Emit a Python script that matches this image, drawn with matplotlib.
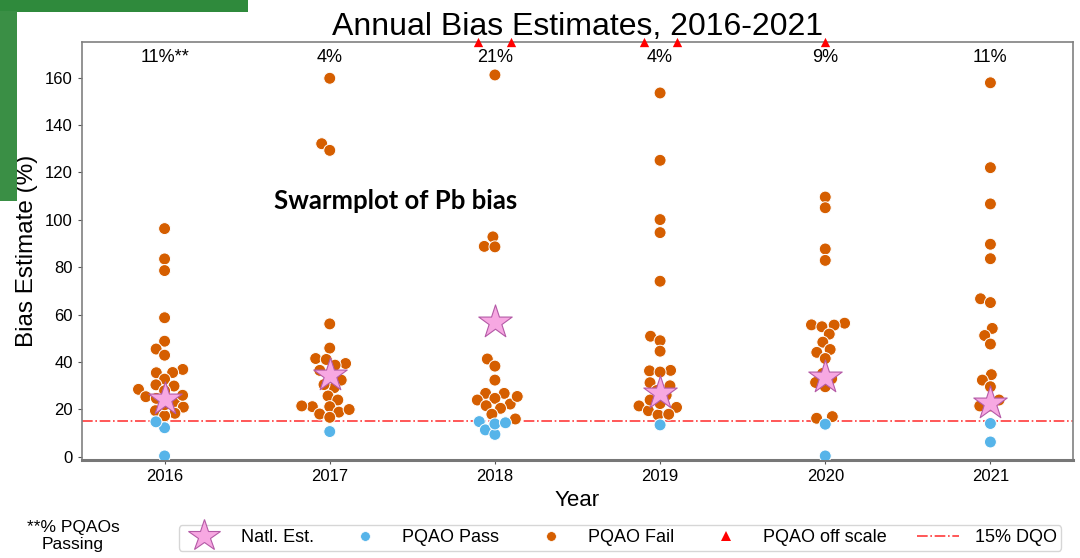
import numpy as np
import pandas as pd
import matplotlib
matplotlib.use('Agg')
import matplotlib.pyplot as plt
import seaborn as sns
from matplotlib.lines import Line2D
from matplotlib.patches import Rectangle

# ---------------- data ----------------
years = ['2016', '2017', '2018', '2019', '2020', '2021']

fail_2016 = [96.3, 83.5, 78.6, 58.7, 48.8, 45.5, 42.9, 36.9, 35.5, 35.6, 32.8, 30.4,
             29.9, 28.5, 27.9, 25.4, 24.7, 23.3, 21.0, 19.5, 18.4, 17.3, 26.0, 22.0]
pass_2016 = [12.3, 14.8, 0.4]

fail_2017 = [159.7, 132.1, 129.3, 56.1, 45.9, 41.5, 41.1, 39.4, 38.7, 32.4, 29.2, 25.7,
             24.0, 21.2, 21.2, 21.5, 18.1, 18.9, 16.7, 35.0, 30.5, 20.0, 36.5]
pass_2017 = [10.7]

fail_2018 = [161.1, 92.8, 88.8, 88.6, 41.3, 38.3, 32.4, 26.8, 26.8, 24.7, 24.0, 21.6,
             22.3, 20.5, 18.0, 16.0, 25.5]
pass_2018 = [14.9, 11.4, 9.5, 13.9, 14.4]

fail_2019 = [153.5, 125.1, 100.1, 94.6, 74.1, 50.9, 49.0, 44.6, 36.5, 36.3, 35.8, 31.3,
             21.5, 19.5, 20.9, 17.7, 18.0, 28.0, 24.0, 22.5, 26.0, 30.0]
pass_2019 = [13.5]

fail_2020 = [109.6, 105.1, 87.7, 82.9, 55.7, 56.4, 55.6, 54.9, 51.8, 48.4, 45.3, 44.1,
             41.5, 31.4, 29.6, 35.2, 17.0, 16.3, 33.0]
pass_2020 = [13.8, 0.4]

fail_2021 = [157.8, 122.0, 106.7, 89.7, 83.6, 66.7, 65.1, 54.2, 51.2, 47.6, 34.7, 32.4,
             29.6, 21.5, 21.5, 24.0]
pass_2021 = [14.1, 6.3]

natl_est = [24.6, 34.5, 57.0, 27.1, 33.8, 22.9]
off_scale_counts = [0, 0, 2, 2, 1, 0]
pct_passing = ['11%**', '4%', '21%', '4%', '9%', '11%']
dqo_level = 15

fails = [fail_2016, fail_2017, fail_2018, fail_2019, fail_2020, fail_2021]
passes = [pass_2016, pass_2017, pass_2018, pass_2019, pass_2020, pass_2021]

rows = []
for yr, f, p in zip(years, fails, passes):
    rows += [(yr, v, 'Fail') for v in f]
    rows += [(yr, v, 'Pass') for v in p]
df = pd.DataFrame(rows, columns=['year', 'bias', 'status'])

# ---------------- style ----------------
plt.rcParams['font.family'] = ['Liberation Sans', 'DejaVu Sans']
c_pass = '#56b4e9'
c_fail = '#d55e00'
c_star = '#f7a8e2'
c_star_edge = '#b45aa6'

fig = plt.figure(figsize=(10.8, 5.58), dpi=100)
fig.patch.set_facecolor('white')

# slide decoration (green band / edge)
fig.patches.append(Rectangle((0, 0.978), 0.23, 0.022, transform=fig.transFigure,
                             facecolor='#2f8a3c', edgecolor='none', zorder=0))
fig.patches.append(Rectangle((0, 0.64), 0.016, 0.34, transform=fig.transFigure,
                             facecolor='#3a8f45', edgecolor='none', zorder=0))

ax = fig.add_axes([82 / 1080, 1 - 460 / 558, (1073 - 82) / 1080, (460 - 42) / 558])

ymin, ymax = -1.3, 175
ax.set_xlim(-0.5, 5.5)
ax.set_ylim(ymin, ymax)

# swarm layout computed with a smaller marker so points cluster tightly,
# then the markers are drawn larger (overlapping, as in the reference)
n_before = len(ax.collections)
sns.swarmplot(data=df, x='year', y='bias', hue='status', order=years,
              hue_order=['Pass', 'Fail'],
              palette={'Pass': c_pass, 'Fail': c_fail}, size=6.6,
              edgecolor='white', linewidth=0.7, legend=False, ax=ax, zorder=3)
ax.set_xlim(-0.5, 5.5)
ax.set_ylim(ymin, ymax)
fig.canvas.draw()
for coll in ax.collections[n_before:]:
    if 'draw' in coll.__dict__:
        del coll.draw
    coll.set_sizes([8.6 ** 2])

ax.scatter(np.arange(len(years)), natl_est, marker='*', s=640, c=c_star,
           edgecolors=c_star_edge, linewidths=0.8, zorder=6)

for i, n in enumerate(off_scale_counts):
    if n == 0:
        continue
    offs = np.linspace(-0.1, 0.1, n) if n > 1 else np.array([0.0])
    ax.scatter(i + offs, [ymax] * n, marker='^', c='#ff0000', s=45,
               clip_on=False, zorder=7, linewidths=0)

ax.axhline(dqo_level, color='#ff3b3b', ls='-.', lw=1.2, zorder=2)

for i, t in enumerate(pct_passing):
    ax.text(i, 168.5, t, ha='center', va='center', fontsize=13)

ax.text(0.665, 108, 'Swarmplot of Pb bias', fontsize=18.5, fontweight='bold',
        family=['Lato', 'DejaVu Sans'], ha='left', va='center')

ax.set_yticks(range(0, 161, 20))
ax.tick_params(axis='both', labelsize=12, length=3, color='#555555')
ax.set_xlabel('Year', fontsize=16, labelpad=4)
ax.set_ylabel('Bias Estimate (%)', fontsize=17.5, labelpad=5)
ax.set_title('Annual Bias Estimates, 2016-2021', fontsize=23, pad=3)

for s in ['top', 'right', 'left']:
    ax.spines[s].set_color('#808080')
    ax.spines[s].set_linewidth(1.2)
ax.spines['bottom'].set_color('#777777')
ax.spines['bottom'].set_linewidth(2.2)

handles = [
    Line2D([], [], marker='*', ls='none', markersize=24, markerfacecolor=c_star,
           markeredgecolor=c_star_edge, markeredgewidth=0.8),
    Line2D([], [], marker='o', ls='none', markersize=7, markerfacecolor=c_pass,
           markeredgecolor='white', markeredgewidth=0.5),
    Line2D([], [], marker='o', ls='none', markersize=7, markerfacecolor=c_fail,
           markeredgecolor='white', markeredgewidth=0.5),
    Line2D([], [], marker='^', ls='none', markersize=7, markerfacecolor='#ff0000',
           markeredgewidth=0),
    Line2D([], [], color='#ff3b3b', ls='-.', lw=1.2),
]
labels = ['Natl. Est.', 'PQAO Pass', 'PQAO Fail', 'PQAO off scale', '15% DQO']
leg = fig.legend(handles, labels, loc='center', ncol=5,
                 bbox_to_anchor=(620 / 1080, 20 / 558), fontsize=13,
                 frameon=True, fancybox=True, edgecolor='#cccccc',
                 columnspacing=1.7, handletextpad=0.9, borderpad=0.25,
                 handlelength=2.3)

fig.text(73 / 1080, 22 / 558, '**% PQAOs\nPassing', ha='center', va='center',
         fontsize=12.5, linespacing=1.1)

fig.savefig('out.png', dpi=100)
